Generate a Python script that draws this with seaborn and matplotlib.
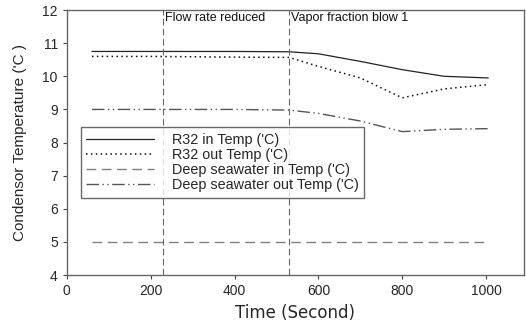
import matplotlib
matplotlib.use("Agg")
import matplotlib.pyplot as plt
import seaborn as sns
import pandas as pd

time = [60, 200, 400, 530, 600, 700, 800, 900, 1005]
r32_in = [10.75, 10.75, 10.75, 10.74, 10.68, 10.45, 10.2, 10.0, 9.95]
r32_out = [10.6, 10.6, 10.58, 10.57, 10.3, 9.95, 9.35, 9.62, 9.75]
deep_in = [5.0, 5.0, 5.0, 5.0, 5.0, 5.0, 5.0, 5.0, 5.0]
deep_out = [9.0, 9.0, 9.0, 8.98, 8.88, 8.65, 8.33, 8.4, 8.42]
events = [230, 530]
event_labels = ["Flow rate reduced", "Vapor fraction blow 1"]
series_names = ["R32 in Temp ('C)", "R32 out Temp ('C)",
                "Deep seawater in Temp ('C)", "Deep seawater out Temp ('C)"]

sns.set_style("ticks")
plt.rcParams['font.family'] = ['Liberation Sans', 'DejaVu Sans']

fig = plt.figure(figsize=(5.26, 3.24), dpi=100)
ax = fig.add_axes([0.127, 0.151, 0.869, 0.818])

styles = [
    dict(color="#222222", linestyle="-", lw=0.9),
    dict(color="#111111", linestyle=(0, (1, 2.2)), lw=1.1),
    dict(color="#808080", linestyle=(0, (7, 4)), lw=1.0),
    dict(color="#555555", linestyle=(0, (9, 2.5, 1, 2.5, 1, 2.5)), lw=1.0),
]
values = [r32_in, r32_out, deep_in, deep_out]
for name, vals, st in zip(series_names, values, styles):
    df = pd.DataFrame({"Time": time, "Temp": vals})
    sns.lineplot(data=df, x="Time", y="Temp", ax=ax, label=name, **st)

for ev, lab in zip(events, event_labels):
    ax.axvline(ev, color="#666666", linestyle=(0, (6, 3)), lw=0.8)
    ax.text(ev + 5, 11.93, lab, fontsize=9, va="top", ha="left", color="#111111")

ax.set_xlim(0, 1090)
ax.set_ylim(4, 12)
ax.set_xticks([0, 200, 400, 600, 800, 1000])
ax.set_yticks([4, 5, 6, 7, 8, 9, 10, 11, 12])
ax.tick_params(labelsize=10, length=3, width=0.8, color="#444444")
ax.set_xlabel("Time (Second)", fontsize=12, labelpad=4, family=["DejaVu Sans"])
ax.set_ylabel("Condensor Temperature ('C )", fontsize=11, labelpad=11)
for s in ax.spines.values():
    s.set_color("#666666")
    s.set_linewidth(1.0)

leg = ax.legend(loc="upper left", bbox_to_anchor=(0.030, 0.558), fontsize=10.4,
                frameon=True, fancybox=False, handlelength=4.7, borderpad=0.4,
                labelspacing=0.08, handletextpad=1.2, borderaxespad=0)
leg.get_frame().set_edgecolor("#444444")
leg.get_frame().set_linewidth(1.0)

fig.savefig("out.png", dpi=100)
